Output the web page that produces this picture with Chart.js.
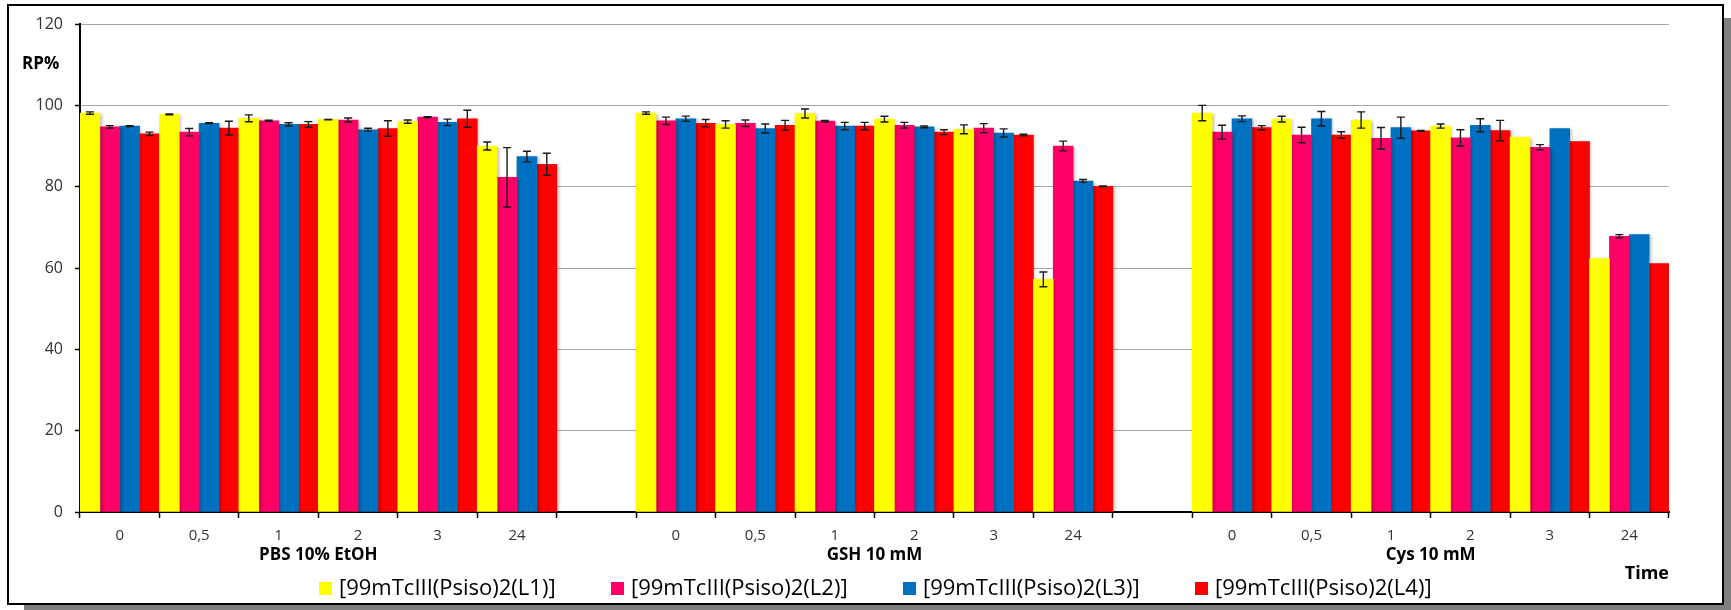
<!DOCTYPE html>
<html>
<head>
<meta charset="utf-8">
<script src="https://cdn.jsdelivr.net/npm/chart.js@4.4.1/dist/chart.umd.min.js"></script>
<style>
  html, body { margin: 0; padding: 0; background: #ffffff; }
  canvas { display: block; }
</style>
</head>
<body>
<canvas id="c" width="1731" height="610"></canvas>
<script>
// Sampling times (h) repeated inside each medium
const times = ['0', '0,5', '1', '2', '3', '24'];
const media = ['PBS 10% EtOH', 'GSH 10 mM', 'Cys 10 mM'];
const seriesNames = [
  '[99mTcIII(Psiso)2(L1)]',
  '[99mTcIII(Psiso)2(L2)]',
  '[99mTcIII(Psiso)2(L3)]',
  '[99mTcIII(Psiso)2(L4)]'
];
const seriesColors = ['#FFFF00', '#FF0066', '#0070C0', '#FF0000'];

// Radiochemical purity (RP%), one row per medium: PBS, GSH, Cys
const rpL1 = [[98.1, 97.8, 96.8, 96.5, 96.0, 90.0], [98.1, 95.3, 98.0, 96.6, 94.1, 57.2], [98.1, 96.6, 96.4, 94.9, 92.2, 62.3]];
const rpL2 = [[94.7, 93.4, 96.2, 96.4, 97.1, 82.3], [96.2, 95.6, 96.1, 95.1, 94.4, 90.0], [93.4, 92.7, 91.9, 92.0, 89.7, 67.8]];
const rpL3 = [[94.9, 95.6, 95.3, 94.0, 95.8, 87.4], [96.7, 94.3, 94.9, 94.7, 93.2, 81.4], [96.7, 96.7, 94.5, 95.1, 94.3, 68.2]];
const rpL4 = [[93.0, 94.4, 95.3, 94.3, 96.7, 85.5], [95.6, 95.1, 94.9, 93.4, 92.7, 80.1], [94.5, 92.7, 93.7, 93.8, 91.1, 61.1]];

// Standard deviations (0 = no error bar)
const sdL1 = [[0.3, 0.1, 0.85, 0.05, 0.4, 1.0], [0.3, 0.9, 1.1, 0.7, 1.1, 1.8], [1.9, 0.7, 2.0, 0.5, 0, 0]];
const sdL2 = [[0.3, 0.9, 0.15, 0.5, 0.1, 7.3], [0.9, 0.8, 0.2, 0.7, 1.1, 1.2], [1.7, 1.9, 2.65, 2.0, 0.65, 0.4]];
const sdL3 = [[0.1, 0.1, 0.4, 0.35, 0.8, 1.3], [0.65, 1.1, 0.9, 0.2, 1.0, 0.35], [0.7, 1.8, 2.6, 1.6, 0, 0]];
const sdL4 = [[0.4, 1.7, 0.7, 1.9, 2.1, 2.7], [0.9, 1.2, 0.9, 0.6, 0.2, 0.1], [0.5, 0.8, 0.1, 2.5, 0, 0]];

const yTicks = { min: 0, max: 120, step: 20 };
const yLabel = 'RP%';
const xLabel = 'Time';

// One empty category between media keeps the three blocks apart
function flatten(rows) {
  const out = [];
  rows.forEach((row, i) => {
    row.forEach(v => out.push(v));
    if (i < rows.length - 1) out.push(null);
  });
  return out;
}
const labels = flatten(media.map(() => times)).map(v => v === null ? '' : v);
const values = [rpL1, rpL2, rpL3, rpL4].map(flatten);
const errors = [sdL1, sdL2, sdL3, sdL4].map(flatten);

const FONT = "'Open Sans', 'Liberation Sans', sans-serif";

// White card with a black border and a grey drop shadow
const framePlugin = {
  id: 'frame',
  beforeDraw(chart) {
    const ctx = chart.ctx;
    ctx.save();
    ctx.fillStyle = '#ffffff';
    ctx.fillRect(0, 0, chart.width, chart.height);
    ctx.fillStyle = '#808080';
    ctx.fillRect(1723, 18, 8, 592);
    ctx.fillRect(24, 604, 1707, 6);
    ctx.strokeStyle = '#000000';
    ctx.lineWidth = 2;
    ctx.strokeRect(8, 5, 1715, 599);
    ctx.restore();
  }
};

// Soft shadow behind the bars
const barShadow = {
  id: 'barShadow',
  beforeDatasetsDraw(chart) {
    const ctx = chart.ctx;
    ctx.save();
    ctx.shadowColor = 'rgba(0,0,0,0.28)';
    ctx.shadowBlur = 3;
    ctx.shadowOffsetX = 1.5;
    ctx.shadowOffsetY = 1;
  },
  afterDatasetsDraw(chart) {
    chart.ctx.restore();
  }
};

// Error bars computed from the y scale
const errorBars = {
  id: 'errorBars',
  afterDatasetsDraw(chart) {
    const ctx = chart.ctx;
    const y = chart.scales.y;
    ctx.save();
    ctx.strokeStyle = '#1a1a1a';
    ctx.lineWidth = 1.4;
    chart.data.datasets.forEach((ds, di) => {
      const meta = chart.getDatasetMeta(di);
      meta.data.forEach((bar, i) => {
        const v = ds.data[i];
        const e = errors[di][i];
        if (v === null || !e) return;
        const x = bar.x;
        const yt = y.getPixelForValue(v + e);
        const yb = y.getPixelForValue(v - e);
        const cap = 4;
        ctx.beginPath();
        ctx.moveTo(x, yt); ctx.lineTo(x, yb);
        ctx.moveTo(x - cap, yt); ctx.lineTo(x + cap, yt);
        ctx.moveTo(x - cap, yb); ctx.lineTo(x + cap, yb);
        ctx.stroke();
      });
    });
    ctx.restore();
  }
};

// Axis titles, medium names under the time ticks, and the legend row
const annotations = {
  id: 'annotations',
  afterDraw(chart) {
    const ctx = chart.ctx;
    const x = chart.scales.x;
    const area = chart.chartArea;
    ctx.save();
    ctx.fillStyle = '#000000';
    ctx.textBaseline = 'middle';

    ctx.font = `bold 17px ${FONT}`;
    ctx.textAlign = 'left';
    ctx.fillText(yLabel, 22, 64);

    ctx.font = `bold 18px ${FONT}`;
    ctx.textAlign = 'right';
    ctx.fillText(xLabel, area.right, 574);

    ctx.font = `bold 17px ${FONT}`;
    ctx.textAlign = 'center';
    media.forEach((m, g) => {
      const first = g * (times.length + 1);
      const last = first + times.length - 1;
      const cx = (x.getPixelForValue(first) + x.getPixelForValue(last)) / 2;
      ctx.fillText(m, cx, 555);
    });

    ctx.font = `22px ${FONT}`;
    ctx.textAlign = 'left';
    let lx = 319;
    const ly = 589;
    seriesNames.forEach((name, i) => {
      ctx.fillStyle = seriesColors[i];
      ctx.fillRect(lx, ly - 7, 13, 13);
      ctx.fillStyle = '#000000';
      ctx.fillText(name, lx + 20, ly);
      lx += 292;
    });
    ctx.restore();
  }
};

new Chart(document.getElementById('c'), {
  type: 'bar',
  data: {
    labels: labels,
    datasets: seriesNames.map((name, i) => ({
      label: name,
      data: values[i],
      backgroundColor: seriesColors[i],
      borderWidth: 0,
      barPercentage: 1,
      categoryPercentage: 1
    }))
  },
  options: {
    responsive: false,
    animation: false,
    layout: { padding: { top: 24, right: 62, bottom: 38, left: 10 } },
    plugins: {
      legend: { display: false },
      tooltip: { enabled: false }
    },
    scales: {
      x: {
        offset: true,
        grid: {
          offset: true,
          drawOnChartArea: false,
          drawTicks: true,
          tickLength: 6,
          tickColor: '#000000',
          tickWidth: 1.5
        },
        border: { color: '#000000', width: 2 },
        ticks: {
          font: { family: FONT, size: 15 },
          color: '#333333',
          padding: 9,
          maxRotation: 0,
          autoSkip: false
        },
        afterFit(scale) { scale.height = 60; }
      },
      y: {
        min: yTicks.min,
        max: yTicks.max,
        ticks: {
          stepSize: yTicks.step,
          font: { family: FONT, size: 16 },
          color: '#333333',
          padding: 12
        },
        grid: {
          color: '#a6a6a6',
          lineWidth: 1,
          tickLength: 5,
          tickColor: '#000000',
          tickWidth: 1.5
        },
        border: { color: '#000000', width: 2 },
        afterFit(scale) { scale.width = 70; }
      }
    }
  },
  plugins: [framePlugin, barShadow, errorBars, annotations]
});
</script>
</body>
</html>
